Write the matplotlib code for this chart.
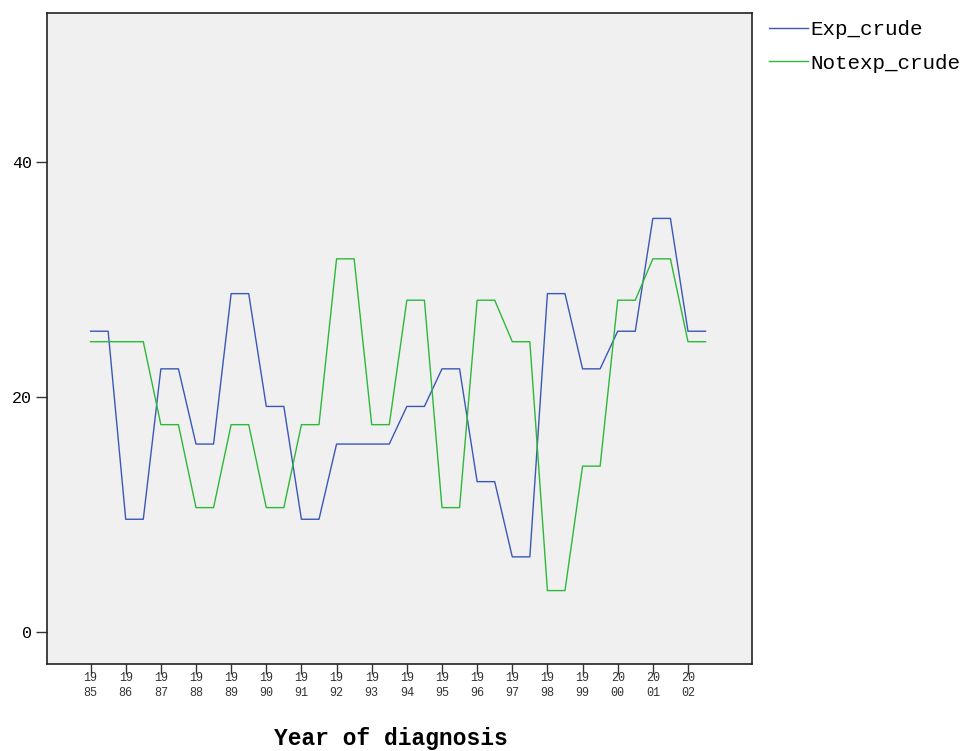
import numpy as np
import matplotlib.pyplot as plt

years = list(range(1985, 2003))
exp_crude = [25.6, 9.6, 22.4, 16.0, 28.8, 19.2, 9.6, 16.0, 16.0,
             19.2, 22.4, 12.8, 6.4, 28.8, 22.4, 25.6, 35.2, 25.6]
notexp_crude = [24.71, 24.71, 17.65, 10.59, 17.65, 10.59, 17.65, 31.76, 17.65,
                28.24, 10.59, 28.24, 24.71, 3.53, 14.12, 28.24, 31.76, 24.71]
year_labels = [str(y)[:2] + '\n' + str(y)[2:] for y in years]

mono = 'Liberation Mono'

# each year is a flat step over half a category, then a ramp to the next
pos = np.arange(len(years))
xs = np.column_stack([pos, pos + 0.5]).ravel()

fig = plt.figure(figsize=(9.69, 7.51), dpi=100)
ax = fig.add_axes([0.0485, 0.1158, 0.7275, 0.8669])
ax.set_facecolor('#f0f0f0')

ax.plot(xs, np.repeat(exp_crude, 2), color='#3a58b8', lw=1.0, label='Exp_crude')
ax.plot(xs, np.repeat(notexp_crude, 2), color='#2db83a', lw=1.0, label='Notexp_crude')

ax.set_xlim(-1.24, 18.82)
ax.set_ylim(-2.72, 52.68)

ax.set_xticks(pos)
ax.set_xticklabels(year_labels, fontfamily=mono, fontsize=8.5, linespacing=1.3,
                   color='#333333')
ax.set_yticks([0, 20, 40])
ax.set_yticklabels(['0', '20', '40'], fontfamily=mono, fontsize=12)
ax.tick_params(axis='x', length=7, width=1, pad=-1, color='#333333')
ax.tick_params(axis='y', length=8, width=1, pad=3, color='#333333')

for s in ax.spines.values():
    s.set_linewidth(1.2)
    s.set_color('#222222')

fig.text(391 / 969, 1 - 745 / 751, 'Year of diagnosis', ha='center', va='baseline',
         fontfamily=mono, fontweight='bold', fontsize=16.5)

leg = fig.legend(loc='upper left', bbox_to_anchor=(769 / 969, 1 - 20 / 751),
                 frameon=False, prop={'family': mono, 'size': 15},
                 handlelength=1.85, handletextpad=0.12, labelspacing=0.7,
                 borderaxespad=0, borderpad=0)

fig.savefig('out.png', dpi=100)
